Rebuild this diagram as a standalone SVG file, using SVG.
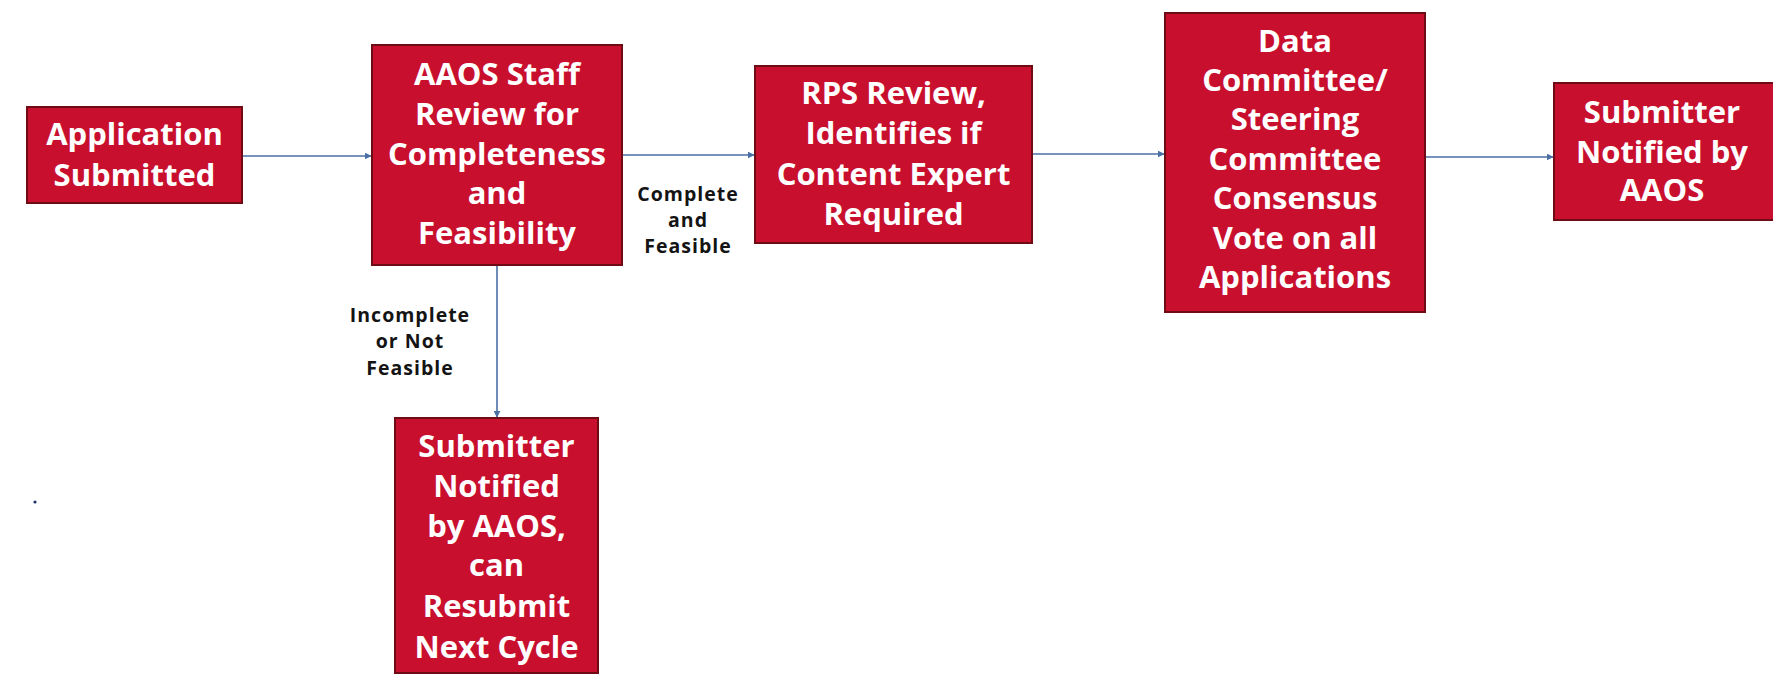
<svg xmlns="http://www.w3.org/2000/svg" width="1773" height="675" viewBox="0 0 1773 675">
<style>
.box{fill:#C8102E;stroke:#6e0b14;stroke-width:2}
.bt{fill:#ffffff;font-family:"Open Sans","Noto Sans",sans-serif;font-weight:bold;font-size:31px;text-anchor:middle}
.lbl{fill:#141414;font-family:"Open Sans","Noto Sans",sans-serif;font-weight:bold;font-size:19.5px;letter-spacing:1px;text-anchor:middle}
.con{stroke:#4a6fa5;stroke-width:1.6;fill:none;marker-end:url(#ah)}
</style>
<defs>
<marker id="ah" viewBox="0 0 10 10" refX="9" refY="5" markerWidth="7" markerHeight="7" markerUnits="userSpaceOnUse" orient="auto">
<path d="M0,0 L10,5 L0,10 z" fill="#4a6fa5"/>
</marker>
</defs>
<rect width="1773" height="675" fill="#ffffff"/>
<g id="connectors">
<line class="con" x1="242" y1="156" x2="371" y2="156"/>
<line class="con" x1="622" y1="155" x2="754" y2="155"/>
<line class="con" x1="1032" y1="154" x2="1164" y2="154"/>
<line class="con" x1="1425" y1="157" x2="1553" y2="157"/>
<line class="con" x1="497" y1="265" x2="497" y2="417"/>
<g id="label-complete">
<text class="lbl" x="688" y="201">Complete</text>
<text class="lbl" x="688" y="227">and</text>
<text class="lbl" x="688" y="253">Feasible</text>
</g>
<g id="label-incomplete">
<text class="lbl" x="410" y="322">Incomplete</text>
<text class="lbl" x="410" y="348">or Not</text>
<text class="lbl" x="410" y="375">Feasible</text>
</g>
</g>
<g id="n1">
<rect class="box" x="27" y="107" width="215" height="96"/>
<text class="bt" x="134.5" y="145">Application</text>
<text class="bt" x="134.5" y="186">Submitted</text>
</g>
<g id="n2">
<rect class="box" x="372" y="45" width="250" height="220"/>
<text class="bt" x="497" y="85">AAOS Staff</text>
<text class="bt" x="497" y="125">Review for</text>
<text class="bt" x="497" y="165">Completeness</text>
<text class="bt" x="497" y="204">and</text>
<text class="bt" x="497" y="244">Feasibility</text>
</g>
<g id="n3">
<rect class="box" x="755" y="66" width="277" height="177"/>
<text class="bt" x="893.5" y="104">RPS Review,</text>
<text class="bt" x="893.5" y="144">Identifies if</text>
<text class="bt" x="893.5" y="185">Content Expert</text>
<text class="bt" x="893.5" y="225">Required</text>
</g>
<g id="n4">
<rect class="box" x="1165" y="13" width="260" height="299"/>
<text class="bt" x="1295" y="52">Data</text>
<text class="bt" x="1295" y="91">Committee/</text>
<text class="bt" x="1295" y="130">Steering</text>
<text class="bt" x="1295" y="170">Committee</text>
<text class="bt" x="1295" y="209">Consensus</text>
<text class="bt" x="1295" y="249">Vote on all</text>
<text class="bt" x="1295" y="288">Applications</text>
</g>
<g id="n5">
<rect class="box" x="1554" y="83" width="225" height="137"/>
<text class="bt" x="1662" y="123">Submitter</text>
<text class="bt" x="1662" y="163">Notified by</text>
<text class="bt" x="1662" y="201">AAOS</text>
</g>
<g id="n6">
<rect class="box" x="395" y="418" width="203" height="255"/>
<text class="bt" x="496.5" y="457">Submitter</text>
<text class="bt" x="496.5" y="497">Notified</text>
<text class="bt" x="496.5" y="537">by AAOS,</text>
<text class="bt" x="496.5" y="576">can</text>
<text class="bt" x="496.5" y="617">Resubmit</text>
<text class="bt" x="496.5" y="658">Next Cycle</text>
</g>
<circle cx="35" cy="502" r="1.6" fill="#1f2f6e"/>
</svg>
